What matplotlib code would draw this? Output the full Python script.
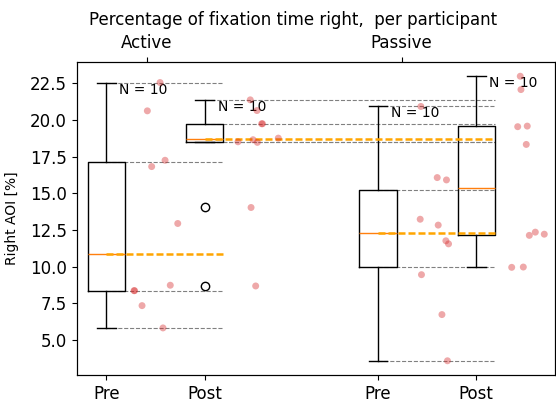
import numpy as np
import matplotlib
matplotlib.use("Agg")
import matplotlib.pyplot as plt
from matplotlib import cbook

# values
active_pre = [22.55, 20.62, 17.25, 16.82, 12.94, 8.73, 8.36, 8.36, 7.34, 5.82]
active_post = [21.37, 20.64, 19.74, 19.74, 18.76, 18.65, 18.51, 18.47, 14.03, 8.68]
passive_pre = [20.92, 16.07, 15.91, 13.23, 12.83, 11.76, 11.55, 9.45, 6.73, 3.58]
passive_post = [22.98, 22.07, 19.54, 19.58, 18.33, 12.13, 12.35, 12.21, 9.95, 9.97]

# horizontal jitter of the dots (right of each box)
jit_active_pre = [0.546, 0.417, 0.597, 0.461, 0.726, 0.650, 0.282, 0.287, 0.363, 0.576]
jit_active_post = [0.463, 0.531, 0.579, 0.587, 0.748, 0.491, 0.338, 0.535, 0.471, 0.518]
jit_passive_pre = [0.437, 0.603, 0.697, 0.430, 0.613, 0.691, 0.718, 0.443, 0.651, 0.707]
jit_passive_post = [0.447, 0.454, 0.421, 0.518, 0.508, 0.539, 0.600, 0.691, 0.360, 0.478]

tick_labels = ["Pre", "Post", "Pre", "Post"]
group_labels = ["Active", "Passive"]
title = "Percentage of fixation time right,  per participant"

data = [active_pre, active_post, passive_pre, passive_post]
jitter = [jit_active_pre, jit_active_post, jit_passive_pre, jit_passive_post]
pos = [1, 2, 3.76, 4.76]
width = 0.38
# each box gets comparison lines drawn to the right edge of another box
targets = {0: 1, 1: 3, 2: 3}

fig = plt.figure(figsize=(5.56, 4.03), dpi=100)
ax = fig.add_axes([76.7/556, 28/403, (555-76.7)/556, (375-62)/403])

ax.boxplot(data, positions=pos, widths=width)
ax.set_xticks(pos)
ax.set_xticklabels(tick_labels, fontsize=12)
ax.tick_params(axis='y', labelsize=12)
ax.set_ylabel("Right AOI [%]", fontsize=10, labelpad=8)

stats = cbook.boxplot_stats(data)
for i, st in enumerate(stats):
    if i in targets:
        x_end = pos[targets[i]] + width/2
        for v in [st['whishi'], st['q3'], st['q1'], st['whislo']]:
            ax.hlines(v, pos[i], x_end, colors='gray', linestyles='--', lw=0.8, zorder=1)
        ax.hlines(st['med'], pos[i], x_end, colors='orange', linestyles=(0, (2.8, 1.2)),
                  lw=1.8, zorder=3)
    ax.annotate("N = %d" % len(data[i]), xy=(pos[i], st['whishi']), xytext=(9.4, -7.9),
                textcoords='offset points', va='baseline', fontsize=10)
    xs = [pos[i] + j for j in jitter[i]]
    ax.scatter(xs, data[i], s=25, color='tab:red', alpha=0.4, edgecolors='none', zorder=4)

ax.set_xlim(0.699, 5.56)

ax2 = ax.twiny()
ax2.set_xlim(ax.get_xlim())
ax2.set_xticks([1.414, 4.002])
ax2.set_xticklabels(group_labels, fontsize=12)

fig.text(292.7/556, 1 - 25/403, title, ha='center', va='baseline', fontsize=12)

fig.savefig("out.png", dpi=100)
